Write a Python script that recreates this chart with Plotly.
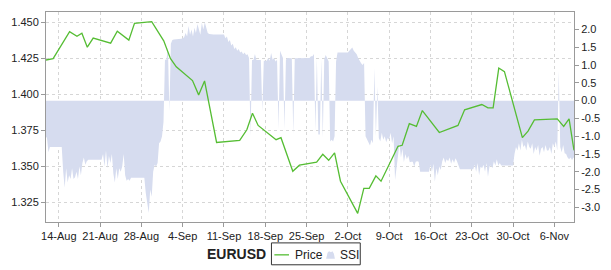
import plotly.graph_objects as go
import pandas as pd

# ---------------- data ----------------
price_dates = [
    "2011-08-11 20:00", "2011-08-13 01:00", "2011-08-15 20:00", "2011-08-17 02:00",
    "2011-08-17 22:00", "2011-08-18 20:00", "2011-08-19 20:00", "2011-08-22 19:00",
    "2011-08-23 22:00", "2011-08-25 21:00", "2011-08-26 20:00", "2011-08-29 18:00",
    "2011-08-31 19:00", "2011-09-01 22:00", "2011-09-02 22:00", "2011-09-05 16:00",
    "2011-09-06 17:00", "2011-09-07 17:00", "2011-09-09 18:00", "2011-09-13 16:00",
    "2011-09-14 21:00", "2011-09-15 20:00", "2011-09-16 19:00", "2011-09-19 20:00",
    "2011-09-20 16:00", "2011-09-22 16:00", "2011-09-23 19:00", "2011-09-26 17:00",
    "2011-09-27 18:00", "2011-09-28 18:00", "2011-09-29 18:00", "2011-09-30 18:00",
    "2011-10-03 16:00", "2011-10-04 17:00", "2011-10-05 15:00", "2011-10-06 18:00",
    "2011-10-07 15:00", "2011-10-10 12:00", "2011-10-11 05:00", "2011-10-12 10:00",
    "2011-10-13 15:00", "2011-10-14 15:00", "2011-10-17 12:00", "2011-10-20 16:00",
    "2011-10-21 19:00", "2011-10-24 17:00", "2011-10-25 18:00", "2011-10-26 15:00",
    "2011-10-27 14:00", "2011-10-28 13:00", "2011-10-31 14:00", "2011-11-01 13:00",
    "2011-11-02 15:00", "2011-11-06 12:00", "2011-11-07 14:00", "2011-11-08 12:00",
    "2011-11-09 08:00",
]
price_values = [
    1.4238, 1.4247, 1.4435, 1.4403, 1.4424, 1.4327, 1.4390, 1.4355,
    1.4438, 1.4376, 1.4493, 1.4504, 1.4371, 1.4249, 1.4191, 1.4095,
    1.3996, 1.4093, 1.3666, 1.3680, 1.3754, 1.3869, 1.3784, 1.3685,
    1.3699, 1.3466, 1.3508, 1.3530, 1.3584, 1.3542, 1.3593, 1.3397,
    1.3174, 1.3347, 1.3347, 1.3434, 1.3397, 1.3639, 1.3646, 1.3796,
    1.3777, 1.3887, 1.3735, 1.3784, 1.3892, 1.3929, 1.3906, 1.3906,
    1.4182, 1.4157, 1.3699, 1.3745, 1.3823, 1.3830, 1.3777, 1.3830,
    1.3611,
]

# SSI, sampled every 6 hours starting at ssi_start (one row per day)
ssi_start = "2011-08-11 18:00"
ssi_values = [
    -1.0,
    -1.05, -1.45, -1.3, -1.3,     # Aug 12
    -1.3, -1.3, -1.3, -1.3,       # Aug 13
    -1.3, -1.3, -1.3, -2.0,       # Aug 14
    -2.45, -1.9, -2.3, -2.1,      # Aug 15
    -2.2, -1.9, -2.2, -2.15,      # Aug 16
    -2.0, -2.2, -1.85, -2.1,      # Aug 17
    -1.75, -1.6, -1.8, -1.7,      # Aug 18
    -1.66, -1.66, -1.66, -1.66,   # Aug 19
    -1.66, -1.66, -1.66, -1.66,   # Aug 20
    -1.66, -1.66, -1.5, -1.85,    # Aug 21
    -1.4, -1.9, -1.55, -1.75,     # Aug 22
    -1.5, -2.05, -2.3, -1.9,      # Aug 23
    -2.2, -1.9, -2.0, -1.85,      # Aug 24
    -1.5, -2.1, -2.25, -2.2,      # Aug 25
    -2.25, -2.17, -2.17, -2.17,   # Aug 26
    -2.17, -2.17, -2.17, -2.17,   # Aug 27
    -2.17, -2.17, -2.17, -2.6,    # Aug 28
    -2.9, -3.16, -2.5, -2.7,      # Aug 29
    -2.0, -1.8, -1.85, -1.75,     # Aug 30
    -1.2, -1.15, -1.0, -0.6,      # Aug 31
    1.15, 1.15, 1.5, -0.3,        # Sep 1
    1.6, 1.7, 1.72, 1.72,         # Sep 2
    1.74, 1.74, 1.74, 1.74,       # Sep 3
    1.75, 1.78, 1.9, 1.8,         # Sep 4
    2.1, 1.85, 2.0, 1.8,          # Sep 5
    2.05, 1.9, 2.15, 1.95,        # Sep 6
    1.85, 2.19, 2.0, 2.2,         # Sep 7
    2.05, 1.9, 1.87, 1.86,        # Sep 8
    1.86, 1.86, 1.86, 1.86,       # Sep 9
    1.86, 1.86, 1.86, 1.86,       # Sep 10
    1.86, 1.75, 1.8, 1.65,        # Sep 11
    1.7, 1.55, 1.6, 1.45,         # Sep 12
    1.5, 1.4, 1.45, 1.35,         # Sep 13
    1.38, 1.3, 1.35, 1.28,        # Sep 14
    1.3, 1.2, -1.0, 1.14,         # Sep 15
    1.14, 1.31, 1.14, 1.14,       # Sep 16
    1.14, 1.14, -0.3, 1.12,       # Sep 17
    1.12, 1.12, 1.2, 1.12,        # Sep 18
    1.34, 1.15, 1.2, 1.1,         # Sep 19
    1.15, -0.8, 1.4, 1.3,         # Sep 20
    1.2, -0.8, 1.15, 1.2,         # Sep 21
    1.19, 1.19, 1.19, -0.95,      # Sep 22
    1.19, 1.19, 1.19, 1.19,       # Sep 23
    1.19, 1.19, 1.19, 1.19,       # Sep 24
    1.19, 1.19, 1.2, 1.25,        # Sep 25
    1.25, 1.31, -0.85, 1.2,       # Sep 26
    -0.95, -0.95, 1.17, -1.05,    # Sep 27
    1.17, 1.28, 1.17, 1.1,        # Sep 28
    -1.15, -1.1, -1.15, -1.0,     # Sep 29
    1.1, 1.35, 1.35, 1.35,        # Sep 30
    1.35, 1.35, 1.35, 1.35,       # Oct 1
    1.35, 1.4, 1.45, 1.49,        # Oct 2
    1.4, 1.35, 1.3, 1.2,          # Oct 3
    1.1, 1.05, 1.0, 1.06,         # Oct 4
    -1.0, -1.1, -1.2, -1.26,      # Oct 5
    -1.1, -1.2, 0.92, -1.0,       # Oct 6
    0.4, -1.05, -1.15, -0.9,      # Oct 7
    -1.1, -1.0, -1.17, -1.05,     # Oct 8
    -1.1, -0.9, -1.2, -1.0,       # Oct 9
    -2.23, -1.8, -1.55, -1.2,     # Oct 10
    -1.6, -1.35, -1.73, -1.5,     # Oct 11
    -1.65, -1.55, -1.73, -1.72,   # Oct 12
    -1.72, -1.85, -1.72, -1.7,    # Oct 13
    -1.72, -2.0, -2.0, -2.0,      # Oct 14
    -2.0, -2.0, -2.0, -2.0,       # Oct 15
    -1.8, -2.0, -1.77, -2.28,     # Oct 16
    -1.9, -2.1, -1.85, -1.95,     # Oct 17
    -1.7, -1.6, -1.75, -1.65,     # Oct 18
    -1.7, -1.6, -1.77, -1.65,     # Oct 19
    -1.75, -1.62, -1.7, -1.8,     # Oct 20
    -1.93, -1.93, -1.93, -1.93,   # Oct 21
    -1.93, -1.93, -1.93, -1.93,   # Oct 22
    -1.93, -1.93, -1.8, -2.0,     # Oct 23
    -1.75, -2.1, -1.85, -1.9,     # Oct 24
    -1.8, -2.0, -1.75, -2.14,     # Oct 25
    -1.85, -1.82, -1.9, -1.7,     # Oct 26
    -1.82, -1.65, -1.82, -1.75,   # Oct 27
    -1.82, -1.82, -1.82, -1.82,   # Oct 28
    -1.82, -1.82, -1.82, -1.82,   # Oct 29
    -1.82, -1.5, -1.3, -1.4,      # Oct 30
    -1.2, -1.4, -1.1, -1.3,       # Oct 31
    -1.25, -1.4, -1.15, -1.3,     # Nov 1
    -1.35, -1.2, -1.5, -1.3,      # Nov 2
    -1.4, -1.25, -1.55, -1.35,    # Nov 3
    -1.3, -1.45, -1.25, -1.4,     # Nov 4
    -1.4, -1.3, -1.5, -1.2,       # Nov 5
    -1.3, -1.15, -1.4, 0.84,      # Nov 6
    -1.3, -1.45, -1.25, -1.48,    # Nov 7
    -1.5, -1.6, -1.65, -1.6,      # Nov 8
    -1.67, -1.6, -1.62, -1.6,     # Nov 9
]
ssi_times = pd.date_range(ssi_start, periods=len(ssi_values), freq="6h")

ssi_ticks = [2.0, 1.5, 1.0, 0.5, 0.0, -0.5, -1.0, -1.5, -2.0, -2.5, -3.0]
legend_title = "EURUSD"
series_names = ["Price", "SSI"]

# ---------------- style ----------------
GREEN = "#55bd33"
FILL = "#d6dcef"
AXIS = "#9a9a9a"
GRID = "#d6d6d6"
TXT = "#222222"
FONT = "Liberation Sans, Arial, sans-serif"

W, H = 611, 270
L, R, T, B = 41, 29, 11, 48
PW, PH = W - L - R, H - T - B


def px(x):
    return (x - L) / PW


def py(y):
    return (H - B - y) / PH


fig = go.Figure()
fig.add_trace(go.Scatter(
    x=ssi_times, y=ssi_values, name=series_names[1], yaxis="y",
    mode="lines", line=dict(width=0, color=FILL), fill="tozeroy",
    fillcolor=FILL, hoverinfo="skip",
))
fig.add_trace(go.Scatter(
    x=pd.to_datetime(price_dates), y=price_values, name=series_names[0],
    yaxis="y2", mode="lines", line=dict(width=1.3, color=GREEN),
))

tickfont = dict(family=FONT, size=11, color=TXT)

fig.update_layout(
    width=W, height=H,
    margin=dict(l=L, r=R, t=T, b=B, pad=0),
    paper_bgcolor="white", plot_bgcolor="white",
    showlegend=False,
    font=dict(family=FONT, size=11, color=TXT),
    xaxis=dict(
        type="date", range=["2011-08-11 20:00", "2011-11-09 08:00"],
        tick0="2011-08-14", dtick=7 * 86400000, tickformat="%-d-%b",
        showline=True, linecolor=AXIS, linewidth=1, mirror=True,
        ticks="outside", ticklen=4, tickcolor=AXIS,
        showgrid=True, gridcolor=GRID, griddash="3px,3px", gridwidth=1,
        zeroline=False, tickfont=tickfont,
    ),
    yaxis=dict(
        range=[-3.41, 2.49], side="right",
        tickvals=ssi_ticks, ticktext=[f"{v:.1f}" for v in ssi_ticks],
        showgrid=False, zeroline=False,
        showline=True, linecolor=AXIS, linewidth=1,
        ticks="outside", ticklen=4, tickcolor=AXIS, tickfont=tickfont,
    ),
    yaxis2=dict(
        range=[1.3114, 1.4571], overlaying="y", side="left",
        tick0=1.3, dtick=0.025, tickformat=".3f",
        showgrid=True, gridcolor=GRID, griddash="3px,3px", gridwidth=1,
        zeroline=False, showline=True, linecolor=AXIS, linewidth=1,
        ticks="outside", ticklen=4, tickcolor=AXIS, tickfont=tickfont,
    ),
)

# ---------------- legend (drawn below the chart) ----------------
fig.add_shape(type="rect", xref="paper", yref="paper",
              x0=px(272), x1=px(363), y0=py(265), y1=py(243),
              line=dict(color="#333333", width=1), fillcolor="white")
fig.add_shape(type="line", xref="paper", yref="paper",
              x0=px(275), x1=px(290), y0=py(255), y1=py(255),
              line=dict(color=GREEN, width=1.3))
glyph = [(328, 259), (329.5, 253), (331, 251.5), (333, 252.5), (334.5, 251.5),
         (336, 254), (337, 259)]
path = "M " + " L ".join(f"{px(a):.5f},{py(b):.5f}" for a, b in glyph) + " Z"
fig.add_shape(type="path", xref="paper", yref="paper", path=path,
              fillcolor=FILL, line=dict(width=0))

fig.add_annotation(text=series_names[0], xref="paper", yref="paper",
                   x=px(294), y=py(255), xanchor="left", yanchor="middle",
                   showarrow=False, font=dict(family=FONT, size=12, color=TXT))
fig.add_annotation(text=series_names[1], xref="paper", yref="paper",
                   x=px(340), y=py(255), xanchor="left", yanchor="middle",
                   showarrow=False, font=dict(family=FONT, size=12, color=TXT))
fig.add_annotation(text=f"<b>{legend_title}</b>", xref="paper", yref="paper",
                   x=px(204), y=py(254), xanchor="left", yanchor="middle",
                   showarrow=False, font=dict(family=FONT, size=14, color=TXT))

fig.write_html("out.html")
